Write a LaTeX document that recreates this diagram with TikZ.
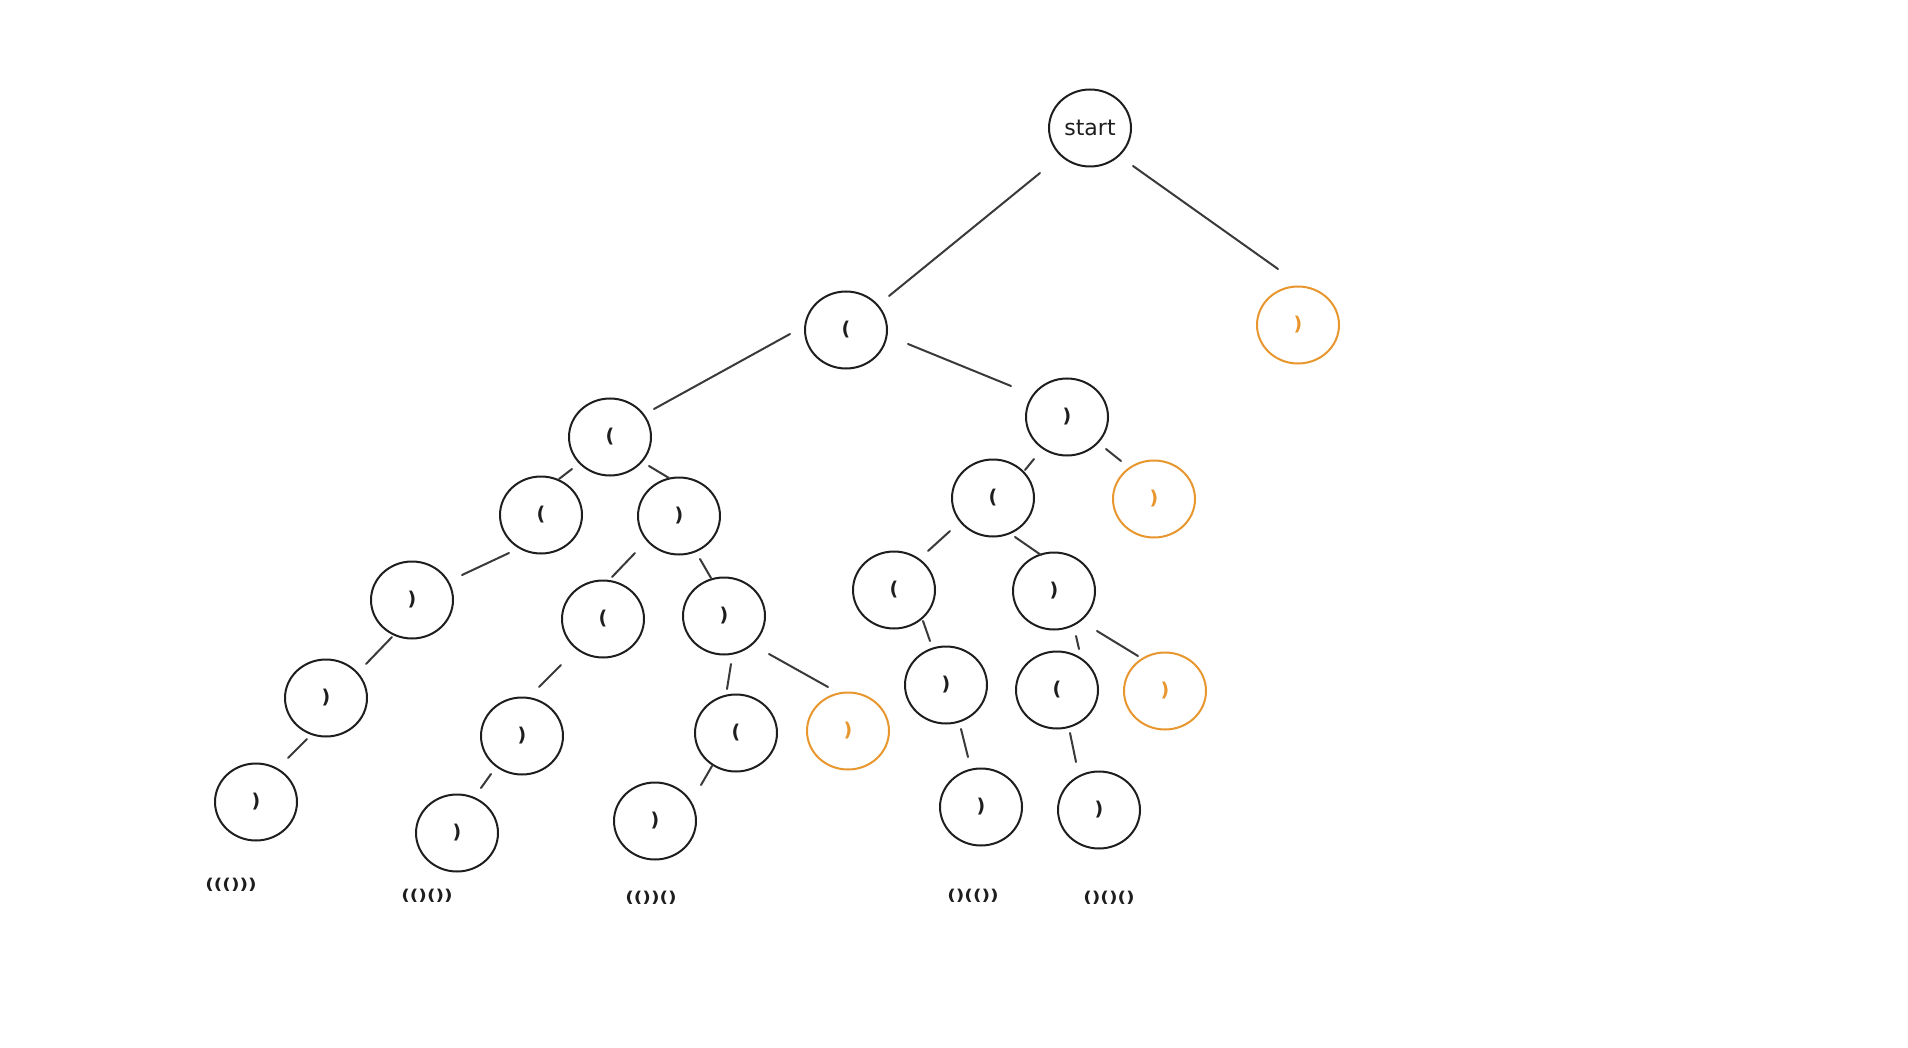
\documentclass[tikz,border=0pt]{standalone}
\usepackage{fontspec}
\usepackage{graphicx}
\setmainfont{DejaVu Sans}
\usetikzlibrary{shapes.geometric,calc}
\definecolor{ink}{HTML}{1E1E1E}
\definecolor{edgeink}{HTML}{3A3A3A}
\definecolor{orng}{HTML}{E8962E}
\tikzset{
  tnode/.style={ellipse,draw=ink,line width=2pt,minimum width=82pt,minimum height=77pt,inner sep=0pt,font=\bfseries\fontsize{19}{19}\selectfont,text=ink},
  onode/.style={tnode,draw=orng,text=orng},
  edge/.style={draw=edgeink,line width=2pt,line cap=round},
  result/.style={font=\bfseries\fontsize{15}{15}\selectfont,text=ink,inner sep=0pt}
}
\begin{document}
\begin{tikzpicture}[x=1pt,y=-1pt]
\useasboundingbox[fill=white] (0,0) rectangle (1908,1048);
% nodes
\node[tnode,font=\fontsize{22}{22}\selectfont] (start) at (1090,128) {start};
\node[tnode] (A) at (846,330) {(};
\node[onode] (B) at (1298,325) {)};
\node[tnode] (C) at (610,437) {(};
\node[tnode] (D) at (1067,417) {)};
\node[tnode] (E) at (541,515) {(};
\node[tnode] (F) at (679,516) {)};
\node[tnode] (G) at (993,498) {(};
\node[onode] (H) at (1154,499) {)};
\node[tnode] (I) at (412,600) {)};
\node[tnode] (J) at (603,619) {(};
\node[tnode] (K) at (724,616) {)};
\node[tnode] (L) at (894,590) {(};
\node[tnode] (M) at (1054,591) {)};
\node[tnode] (N) at (326,698) {)};
\node[tnode] (O) at (522,736) {)};
\node[tnode] (P) at (736,733) {(};
\node[onode] (Q) at (848,731) {)};
\node[tnode] (R) at (946,685) {)};
\node[tnode] (S) at (1057,690) {(};
\node[onode] (T) at (1165,691) {)};
\node[tnode] (U) at (256,802) {)};
\node[tnode] (V) at (457,833) {)};
\node[tnode] (W) at (655,821) {)};
\node[tnode] (X) at (981,807) {)};
\node[tnode] (Y) at (1099,810) {)};
% results
\node[result] (r1) at (231,885) {\scalebox{1.25}[1]{((()))}};
\node[result] (r2) at (427,896) {\scalebox{1.25}[1]{(()())}};
\node[result] (r3) at (651,898) {\scalebox{1.25}[1]{(())()}};
\node[result] (r4) at (973,896) {\scalebox{1.25}[1]{()(())}};
\node[result] (r5) at (1109,898) {\scalebox{1.25}[1]{()()()}};
% edges
\draw[edge] ($(start)+(-50,45)$) -- ($(A)+(43,-34)$);
\draw[edge] ($(start)+(43,38)$) -- ($(B)+(-20,-56)$);
\draw[edge] ($(A)+(-56,4)$) -- ($(C)+(44,-28)$);
\draw[edge] ($(A)+(62,14)$) -- ($(D)+(-56,-31)$);
\draw[edge] ($(C)+(-38,32)$) -- ($(E)+(18,-36)$);
\draw[edge] ($(C)+(39,29)$) -- ($(F)+(-10,-38)$);
\draw[edge] ($(D)+(-33,42)$) -- ($(G)+(32,-28)$);
\draw[edge] ($(D)+(39,32)$) -- ($(H)+(-33,-38)$);
\draw[edge] ($(E)+(-32,38)$) -- ($(I)+(50,-25)$);
\draw[edge] ($(F)+(-44,37)$) -- ($(J)+(9,-42)$);
\draw[edge] ($(F)+(21,43)$) -- ($(K)+(-13,-38)$);
\draw[edge] ($(G)+(-43,33)$) -- ($(L)+(34,-39)$);
\draw[edge] ($(G)+(22,39)$) -- ($(M)+(-13,-36)$);
\draw[edge] ($(I)+(-20,37)$) -- ($(N)+(40,-34)$);
\draw[edge] ($(J)+(-42,46)$) -- ($(O)+(17,-49)$);
\draw[edge] ($(K)+(7,48)$) -- ($(P)+(-9,-44)$);
\draw[edge] ($(K)+(45,38)$) -- ($(Q)+(-20,-44)$);
\draw[edge] ($(L)+(29,31)$) -- ($(R)+(-16,-44)$);
\draw[edge] ($(M)+(22,45)$) -- ($(S)+(22,-41)$);
\draw[edge] ($(M)+(43,40)$) -- ($(T)+(-27,-35)$);
\draw[edge] ($(N)+(-19,41)$) -- ($(U)+(32,-44)$);
\draw[edge] ($(O)+(-31,38)$) -- ($(V)+(24,-45)$);
\draw[edge] ($(P)+(-24,33)$) -- ($(W)+(46,-36)$);
\draw[edge] ($(R)+(15,44)$) -- ($(X)+(-13,-50)$);
\draw[edge] ($(S)+(13,43)$) -- ($(Y)+(-23,-48)$);
\end{tikzpicture}
\end{document}
